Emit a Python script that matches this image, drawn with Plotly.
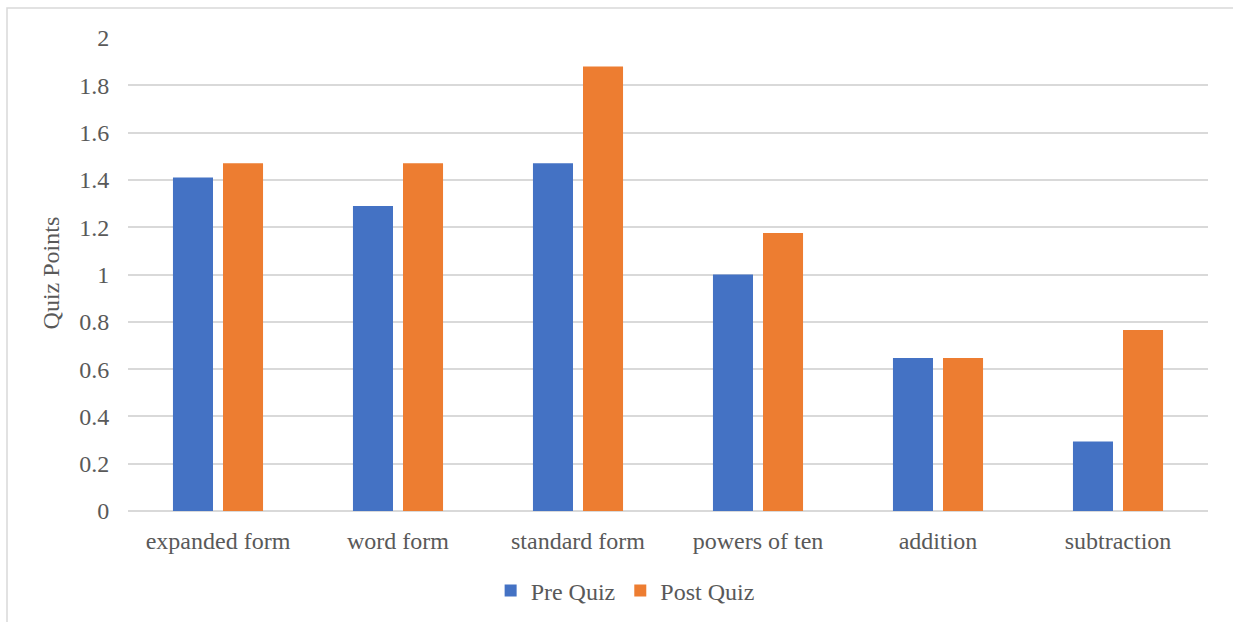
import plotly.graph_objects as go

# Quiz results per skill (points out of 2)
categories = ["expanded form", "word form", "standard form",
              "powers of ten", "addition", "subtraction"]
pre_quiz = [1.41, 1.29, 1.47, 1.00, 0.647, 0.294]
post_quiz = [1.47, 1.47, 1.88, 1.176, 0.647, 0.765]

FONT = "Liberation Serif"
TEXT = "#595959"
GRID = "#d9d9d9"
SIZE = 24

fig = go.Figure()
fig.add_bar(name="Pre Quiz", x=categories, y=pre_quiz, marker_color="#4472C4",
            marker_line_width=0)
fig.add_bar(name="Post Quiz", x=categories, y=post_quiz, marker_color="#ED7D31",
            marker_line_width=0)

fig.update_layout(
    width=1233, height=622,
    margin=dict(l=128, r=25, t=38, b=111, autoexpand=False),
    paper_bgcolor="white", plot_bgcolor="white",
    barmode="group", bargap=0.444, bargroupgap=0.2,
    font=dict(family=FONT, size=SIZE, color=TEXT),
    showlegend=True,
    legend=dict(orientation="h", x=0.507, xanchor="center", xref="container",
                y=-0.169, yanchor="middle", font=dict(family=FONT, size=SIZE, color=TEXT),
                itemclick=False),
    xaxis=dict(showgrid=False, ticks="outside", ticklen=8, tickcolor="rgba(0,0,0,0)",
               showline=False, tickangle=0, automargin=False,
               tickfont=dict(family=FONT, size=SIZE, color=TEXT)),
    yaxis=dict(range=[0, 2], dtick=0.2, showgrid=True, gridcolor=GRID, gridwidth=2,
               zeroline=True, zerolinecolor=GRID, zerolinewidth=2,
               ticks="outside", ticklen=13, tickcolor="rgba(0,0,0,0)", automargin=False,
               tickfont=dict(family=FONT, size=SIZE, color=TEXT), showline=False),
    annotations=[dict(text="Quiz Points", textangle=-90, xref="paper", yref="paper",
                      x=-0.071, y=0.503, xanchor="center", yanchor="middle",
                      showarrow=False, font=dict(size=SIZE, color=TEXT, family=FONT))],
    shapes=[dict(type="rect", xref="paper", yref="paper",
                 x0=(7 - 128) / 1080, x1=1.1, y0=-0.5, y1=(511 - 8) / 473,
                 line=dict(color=GRID, width=1.5), fillcolor="rgba(0,0,0,0)",
                 layer="below")],
)

fig.write_html("out.html")
